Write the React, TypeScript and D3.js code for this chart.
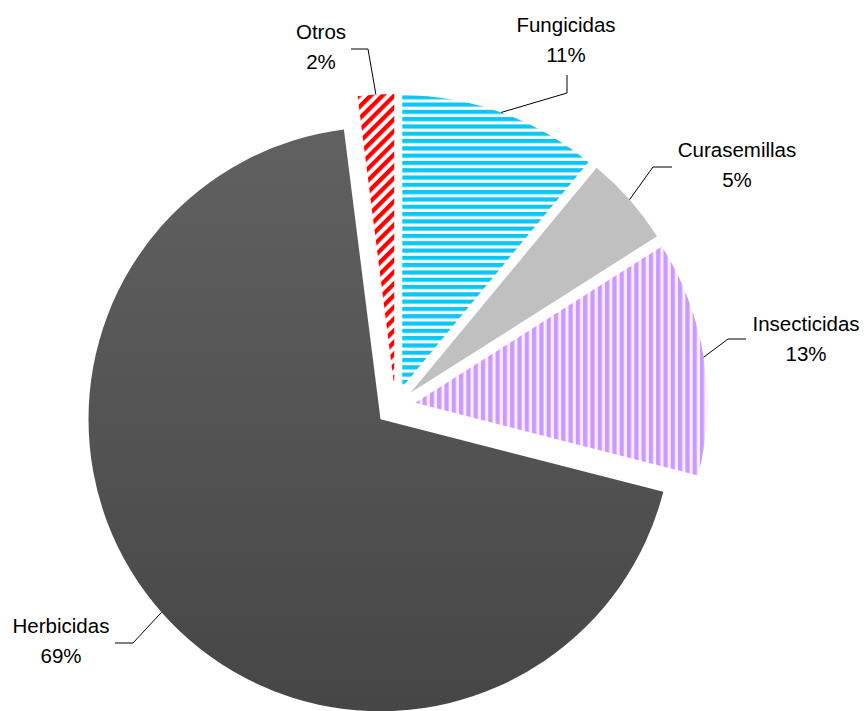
import React from "react";
import * as d3 from "d3";

const categories = ["Fungicidas", "Curasemillas", "Insecticidas", "Herbicidas", "Otros"];
const values = [11, 5, 13, 69, 2];
const percentLabels = ["11%", "5%", "13%", "69%", "2%"];

// layout for labels (text centre x, first baseline y, elbow, end of leader)
const labelLayout = [
  { tx: 566, ty: 32, elbow: [567, 93], end: [567, 75] },
  { tx: 737, ty: 157, elbow: [653, 167], end: [672, 167] },
  { tx: 806, ty: 331, elbow: [728, 339], end: [746, 339] },
  { tx: 61, ty: 633, elbow: [133, 643], end: [115, 643] },
  { tx: 321, ty: 39, elbow: [368, 49], end: [351, 49] },
];

const W = 866;
const H = 711;
const CX = 395.5;
const CY = 406;
const R = 292;
const EXPLODE = 20;

const fills = ["url(#pFung)", "#c0c0c0", "url(#pIns)", "url(#gHerb)", "url(#pOtros)"];

export default function App() {
  const pie = d3.pie<number>().sort(null).value((d) => d)(values);
  const arc = d3.arc<d3.PieArcDatum<number>>().innerRadius(0).outerRadius(R);

  return (
    <svg
      width={W}
      height={H}
      style={{ position: "absolute", left: 0, top: 0, background: "#fff" }}
      fontFamily="'Liberation Sans', Arial, sans-serif"
    >
      <defs>
        <pattern id="pFung" patternUnits="userSpaceOnUse" width={10} height={7.3}>
          <rect width={10} height={7.3} fill="#fff" />
          <rect y={0} width={10} height={4.2} fill="#0ac8f5" />
        </pattern>
        <pattern id="pIns" patternUnits="userSpaceOnUse" width={7.3} height={10}>
          <rect width={7.3} height={10} fill="#f6eeff" />
          <rect x={0} width={4.2} height={10} fill="#cc99ff" />
        </pattern>
        <pattern
          id="pOtros"
          patternUnits="userSpaceOnUse"
          width={8.3}
          height={10}
          patternTransform="rotate(45)"
        >
          <rect width={8.3} height={10} fill="#fff" />
          <rect x={0} width={4.3} height={10} fill="#ff0000" />
        </pattern>
        <linearGradient id="gHerb" x1={0} y1={0} x2={0} y2={1}>
          <stop offset="0" stopColor="#616161" />
          <stop offset="1" stopColor="#464646" />
        </linearGradient>
      </defs>
      {pie.map((p, i) => {
        const mid = (p.startAngle + p.endAngle) / 2;
        const ox = CX + Math.sin(mid) * EXPLODE;
        const oy = CY - Math.cos(mid) * EXPLODE;
        return (
          <path key={categories[i]} d={arc(p) || ""} transform={`translate(${ox},${oy})`} fill={fills[i]} />
        );
      })}
      {pie.map((p, i) => {
        const mid = (p.startAngle + p.endAngle) / 2;
        const ox = CX + Math.sin(mid) * EXPLODE;
        const oy = CY - Math.cos(mid) * EXPLODE;
        const sx = ox + Math.sin(mid) * R;
        const sy = oy - Math.cos(mid) * R;
        const L = labelLayout[i];
        return (
          <g key={"l" + i}>
            <polyline
              points={`${sx},${sy} ${L.elbow[0]},${L.elbow[1]} ${L.end[0]},${L.end[1]}`}
              fill="none"
              stroke="#000"
              strokeWidth={1}
            />
            <text x={L.tx} y={L.ty} fontSize={20.5} textAnchor="middle" fill="#000">
              {categories[i]}
            </text>
            <text x={L.tx} y={L.ty + 29.5} fontSize={20.5} textAnchor="middle" fill="#000">
              {percentLabels[i]}
            </text>
          </g>
        );
      })}
    </svg>
  );
}
